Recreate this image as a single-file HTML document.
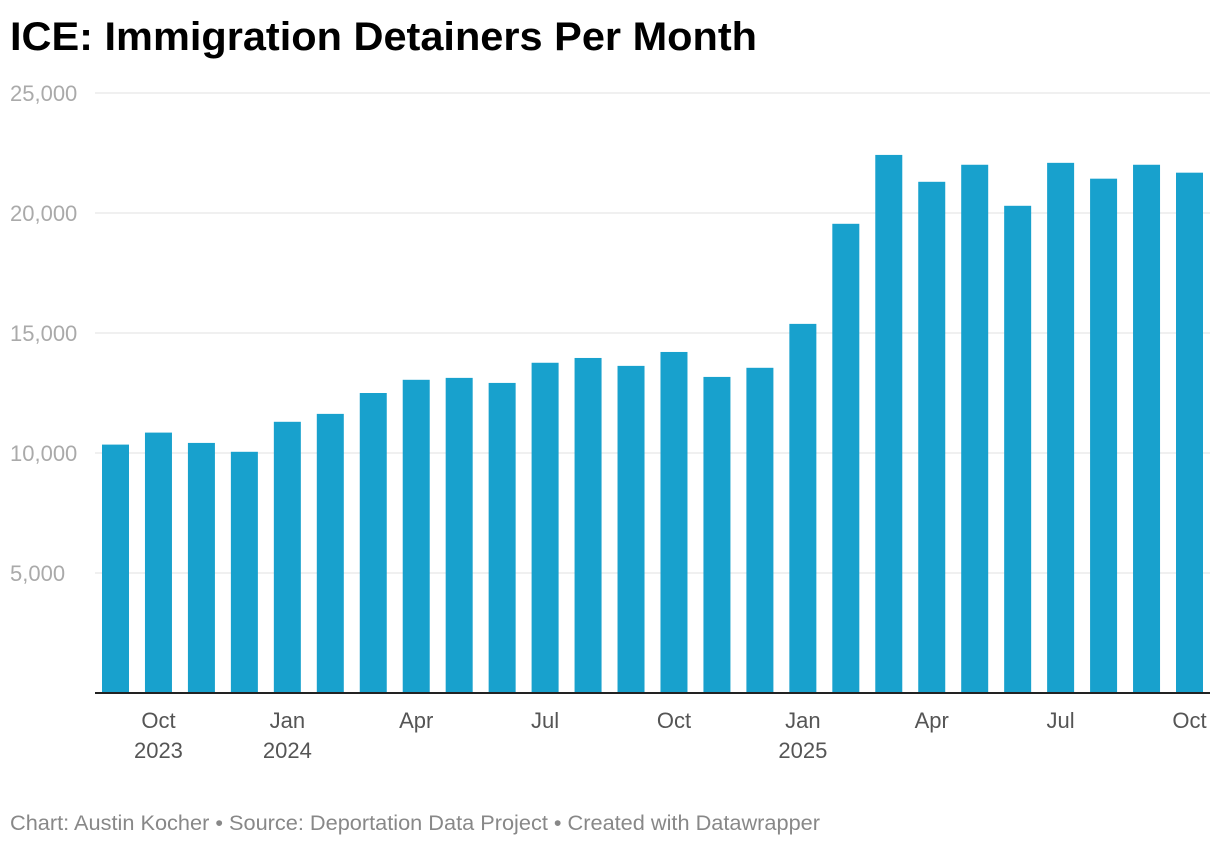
<!DOCTYPE html>
<html><head><meta charset="utf-8"><style>
body{margin:0;background:#fff;width:1220px;height:846px;overflow:hidden;font-family:"Liberation Sans",sans-serif}
</style></head><body>
<svg width="1220" height="846">
<text x="10" y="50" font-size="40" font-weight="bold" fill="#000" textLength="747" lengthAdjust="spacingAndGlyphs" font-family="Liberation Sans">ICE: Immigration Detainers Per Month</text>
<g id="grid"></g><g id="bars"></g><g id="xl"></g>
<text x="10" y="830" font-size="21" fill="#888" textLength="810" lengthAdjust="spacingAndGlyphs">Chart: Austin Kocher • Source: Deportation Data Project • Created with Datawrapper</text>
</svg>
<script>
const months=["Sep 2023","Oct 2023","Nov 2023","Dec 2023","Jan 2024","Feb 2024","Mar 2024","Apr 2024","May 2024","Jun 2024","Jul 2024","Aug 2024","Sep 2024","Oct 2024","Nov 2024","Dec 2024","Jan 2025","Feb 2025","Mar 2025","Apr 2025","May 2025","Jun 2025","Jul 2025","Aug 2025","Sep 2025","Oct 2025"];
const values=[10350,10850,10420,10050,11300,11630,12500,13050,13130,12920,13760,13960,13630,14210,13170,13550,15380,19550,22420,21300,22010,20300,22090,21430,22010,21680];
const yTicks=[5000,10000,15000,20000,25000];
const yTickLabels=["5,000","10,000","15,000","20,000","25,000"];
const xTickIdx=[1,4,7,10,13,16,19,22,25];
const xTickLabels=[["Oct","2023"],["Jan","2024"],["Apr",""],["Jul",""],["Oct",""],["Jan","2025"],["Apr",""],["Jul",""],["Oct",""]];
const NS="http://www.w3.org/2000/svg";
const y=v=>693-v*0.024;
const x=i=>102+i*42.96;
const bw=27;
function mk(t,a,p){const e=document.createElementNS(NS,t);for(const k in a)e.setAttribute(k,a[k]);p.appendChild(e);return e;}
const g=document.getElementById('grid');
yTicks.forEach((t,i)=>{
 const l=mk('line',{x1:95,x2:1210,y1:y(t),y2:y(t),stroke:'#e0e0e0','stroke-width':1},g);
 
 
 const tx=mk('text',{x:10,y:y(t)+8,'font-size':22,fill:'#aaa'},g);
 tx.textContent=yTickLabels[i];
 
 
});
const b=document.getElementById('bars');
values.forEach((v,i)=>{
 const r=mk('rect',{x:x(i),y:y(v),width:bw,height:693-y(v),fill:'#18a1cd'},b);
 
 
});
const base=mk('line',{x1:95,x2:1210,y1:693,y2:693,stroke:'#222','stroke-width':2},b);


const xl=document.getElementById('xl');
xTickIdx.forEach((idx,j)=>{
 const cx=x(idx)+bw/2;
 xTickLabels[j].forEach((s,k)=>{
  if(!s)return;
  const t=mk('text',{x:cx,y:728+k*30,'font-size':22,fill:'#555','text-anchor':'middle'},xl);
  t.textContent=s;
  
  
 });
});
</script>
</body></html>
